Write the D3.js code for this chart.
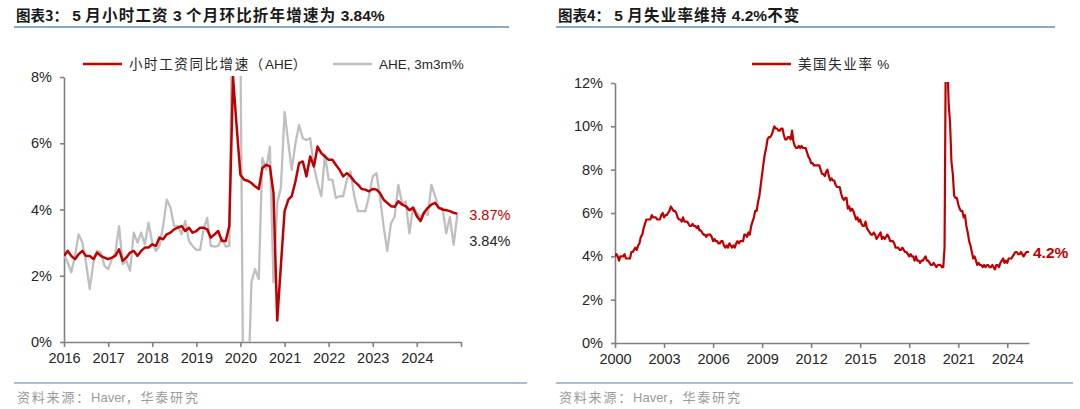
<!DOCTYPE html>
<html>
<head>
<meta charset="utf-8">
<script src="https://cdn.jsdelivr.net/npm/d3@7"></script>
<style>
  body { margin: 0; background: #fff; }
  svg { display: block; }
  .cjk { font-family: "Noto Sans CJK SC", sans-serif; }
  .num { font-family: "Liberation Sans", Arial, sans-serif; }
</style>
</head>
<body>
<svg id="chart" width="1080" height="409"></svg>
<script>
// ---- data: chart 3, monthly from Jan 2016 (axis dates as drawn)
const aheStart = new Date(2016, 0, 1);
const aheYoy = [2.6, 2.75, 2.6, 2.5, 2.65, 2.75, 2.6, 2.6, 2.5, 2.7, 2.6, 2.55,
  2.5, 2.55, 2.6, 2.8, 2.45, 2.55, 2.7, 2.75, 2.6, 2.75, 2.85, 2.85,
  2.95, 2.9, 3.15, 3.1, 3.25, 3.3, 3.4, 3.45, 3.5, 3.35, 3.45, 3.3,
  3.35, 3.45, 3.45, 3.4, 3.15, 3.25, 3.35, 3.05, 3.05, 3.5, 8.0, 6.5,
  5.05, 4.9, 4.87, 4.8, 4.7, 4.62, 5.25, 5.35, 5.3, 4.5, 0.65, 2.3,
  3.95, 4.3, 4.4, 4.85, 5.4, 5.45, 5.0, 5.6, 5.3, 5.9, 5.7, 5.6,
  5.5, 5.5, 5.35, 5.2, 5.0, 5.1, 5.0, 4.85, 4.75, 4.62, 4.6, 4.55,
  4.62, 4.6, 4.5, 4.3, 4.2, 4.1, 4.08, 4.25, 4.15, 4.1, 3.98, 4.05,
  3.8, 3.65, 3.9, 4.05, 4.15, 4.2, 4.05, 4.0, 3.98, 3.95, 3.9, 3.87];
const ahe3m3m = [2.63, 2.4, 2.1, 2.6, 3.25, 3.0, 2.4, 1.6, 2.4, 2.75, 2.7, 2.3,
  2.2, 2.5, 2.7, 3.5, 2.35, 2.45, 2.15, 3.3, 3.0, 3.3, 2.95, 3.6,
  3.0, 2.75, 2.9, 3.5, 4.3, 4.05, 3.5, 3.5, 3.25, 3.65, 3.05, 2.9,
  2.78, 2.78, 3.4, 3.75, 2.9, 2.88, 2.9, 3.15, 2.88, 2.9, 12, 14,
  9, -5, -2, 1.8, 2.2, 1.9, 5.55, 5.2, 5.9, 1.8, 4.2, 4.65,
  6.95, 6.0, 5.2, 6.0, 6.55, 6.15, 6.1, 6.15, 5.3, 4.8, 4.4, 5.65,
  4.9, 4.9, 4.35, 4.4, 4.4, 4.9, 5.15, 4.4, 3.95, 3.95, 3.95, 4.4,
  5.0, 5.1, 4.4, 3.5, 2.75, 3.58, 3.78, 4.74, 4.19, 4.24, 3.28, 4.09,
  3.9, 3.78, 3.93, 3.83, 4.74, 4.4, 4.04, 4.04, 3.28, 3.78, 2.93, 3.84];
const aheYTicks = [0, 2, 4, 6, 8];
const aheXTicks = d3.range(2016, 2026);

// ---- data: chart 4, US unemployment rate, monthly from Jan 2000
const urStart = new Date(2000, 0, 1);
const unrate = [
  4.0,4.1,4.0,3.8,4.0,4.0,4.0,4.1,3.9,3.9,3.9,3.9,
  4.2,4.2,4.3,4.4,4.3,4.5,4.6,4.9,5.0,5.3,5.5,5.7,
  5.7,5.7,5.7,5.9,5.8,5.8,5.8,5.7,5.7,5.7,5.9,6.0,
  5.8,5.9,5.9,6.0,6.1,6.3,6.2,6.1,6.1,6.0,5.8,5.7,
  5.7,5.6,5.8,5.6,5.6,5.6,5.5,5.4,5.4,5.5,5.4,5.4,
  5.3,5.4,5.2,5.2,5.1,5.0,5.0,4.9,5.0,5.0,5.0,4.9,
  4.7,4.8,4.7,4.7,4.6,4.6,4.7,4.7,4.5,4.4,4.5,4.4,
  4.6,4.5,4.4,4.5,4.4,4.6,4.7,4.6,4.7,4.7,4.7,5.0,
  5.0,4.9,5.1,5.0,5.4,5.6,5.8,6.1,6.1,6.5,6.8,7.3,
  7.8,8.3,8.7,9.0,9.4,9.5,9.5,9.6,9.8,10.0,9.9,9.9,
  9.8,9.8,9.9,9.9,9.6,9.4,9.4,9.5,9.5,9.4,9.8,9.3,
  9.1,9.0,9.0,9.1,9.0,9.1,9.0,9.0,9.0,8.8,8.6,8.5,
  8.3,8.3,8.2,8.2,8.2,8.2,8.2,8.0,7.8,7.8,7.7,7.9,
  8.0,7.7,7.5,7.6,7.5,7.5,7.3,7.2,7.2,7.2,6.9,6.7,
  6.6,6.7,6.7,6.2,6.3,6.1,6.2,6.1,5.9,5.7,5.8,5.6,
  5.7,5.5,5.4,5.4,5.6,5.3,5.2,5.1,5.0,5.0,5.1,5.0,
  4.8,4.9,5.0,5.1,4.8,4.9,4.8,4.9,5.0,4.9,4.7,4.7,
  4.7,4.6,4.4,4.4,4.4,4.3,4.3,4.4,4.3,4.2,4.2,4.1,
  4.0,4.1,4.0,4.0,3.8,4.0,3.8,3.8,3.7,3.8,3.8,3.9,
  4.0,3.8,3.8,3.7,3.6,3.6,3.7,3.6,3.5,3.6,3.6,3.6,
  3.5,3.5,4.4,14.8,13.2,11.0,10.2,8.4,7.8,6.8,6.7,6.7,
  6.4,6.2,6.1,6.1,5.8,5.9,5.4,5.1,4.7,4.5,4.2,3.9,
  4.0,3.8,3.6,3.7,3.6,3.6,3.5,3.6,3.5,3.6,3.6,3.5,
  3.5,3.6,3.5,3.4,3.6,3.6,3.5,3.7,3.8,3.9,3.7,3.8,
  3.7,3.9,3.9,3.9,4.0,4.1,4.2,4.2,4.1,4.1,4.2,4.1,
  4.0,4.1,4.2,4.2,4.2];
const urYTicks = [0, 2, 4, 6, 8, 10, 12];
const urXTicks = d3.range(2000, 2025, 3);

const RED = '#C00000', GREY = '#BFBFBF', AXIS = '#808080', TXT = '#262626', RULE = '#8EA9C4';
const monthOf = (start, i) => d3.timeMonth.offset(start, i);

const svg = d3.select('#chart');
svg.append('rect').attr('width', 1080).attr('height', 409).attr('fill', '#fff');

// text with letter spacing only on the CJK runs
function mixed(t, str, spacing) {
  str.split(/([A-Za-z0-9%.,\- ]+)/).filter(s => s.length).forEach(s => {
    const latin = /^[A-Za-z0-9%.,\- ]+$/.test(s);
    t.append('tspan').attr('font-family', latin ? '"Liberation Sans", Arial, sans-serif' : '"Noto Sans CJK SC", sans-serif')
      .attr('letter-spacing', latin ? 0 : spacing).text(s);
  });
  return t;
}

function header(x0, x1, label, rest) {
  const t = svg.append('text').attr('x', x0 + 2).attr('y', 21)
    .attr('fill', '#1a1a1a').attr('font-weight', 700).attr('font-size', 15.5);
  t.append('tspan').attr('class', 'cjk').attr('font-size', 14.5).text(label);
  mixed(t, rest, 1.2);
  svg.append('line').attr('x1', x0).attr('x2', x1).attr('y1', 27).attr('y2', 27)
    .attr('stroke', RULE).attr('stroke-width', 2);
  svg.append('line').attr('x1', x0).attr('x2', x1 + 18).attr('y1', 383).attr('y2', 383)
    .attr('stroke', RULE).attr('stroke-width', 1.5);
  const s = svg.append('text').attr('x', x0 + 3).attr('y', 402)
    .attr('font-size', 13).attr('fill', '#9a9a9a');
  mixed(s, '资料来源：Haver，华泰研究', 1.8);
}

function legendItem(x, y, color, label) {
  svg.append('line').attr('x1', x).attr('x2', x + 39).attr('y1', y).attr('y2', y)
    .attr('stroke', color).attr('stroke-width', 2.5);
  const t = svg.append('text').attr('x', x + 46).attr('y', y + 4.5)
    .attr('font-size', 13.5).attr('fill', TXT);
  mixed(t, label, 1.6);
}

function styleAxis(g) {
  g.selectAll('path, line').attr('stroke', AXIS).attr('stroke-width', 1.6);
  g.selectAll('text').attr('class', 'num').attr('font-size', 14.5).attr('fill', TXT);
}

function clip(id, x0, x1, y0, y1) {
  svg.append('clipPath').attr('id', id).append('rect')
    .attr('x', x0).attr('y', y0).attr('width', x1 - x0).attr('height', y1 - y0);
}

// ================= chart 3 =================
header(14, 509, '图表3：', ' 5 月小时工资 3 个月环比折年增速为 3.84%');
legendItem(83, 64, RED, '小时工资同比增速（AHE）');
legendItem(333, 64, GREY, 'AHE, 3m3m%');

const xL = d3.scaleTime().domain([new Date(2016, 0, 1), new Date(2025, 0, 1)]).range([64, 461]);
const yL = d3.scaleLinear().domain([0, 8]).range([342, 77]);

svg.append('g').attr('transform', 'translate(64,0)')
  .call(d3.axisLeft(yL).tickValues(aheYTicks).tickFormat(d => d + '%').tickSize(4).tickSizeOuter(0).tickPadding(8))
  .call(styleAxis);
svg.append('g').attr('transform', 'translate(0,342)')
  .call(d3.axisBottom(xL).tickValues(aheXTicks.map(y => new Date(y, 0, 1)))
    .tickFormat(d => d.getFullYear() < 2025 ? d.getFullYear() : '').tickSize(5).tickSizeOuter(0).tickPadding(6))
  .call(styleAxis);

clip('clipL', 64, 470, 76, 342);
const lineL = d3.line().x((d, i) => xL(monthOf(aheStart, i))).y(d => yL(d));
svg.append('path').datum(ahe3m3m).attr('d', lineL).attr('clip-path', 'url(#clipL)')
  .attr('fill', 'none').attr('stroke', GREY).attr('stroke-width', 2.3).attr('stroke-linejoin', 'round');
svg.append('path').datum(aheYoy).attr('d', lineL).attr('clip-path', 'url(#clipL)')
  .attr('fill', 'none').attr('stroke', RED).attr('stroke-width', 2.5).attr('stroke-linejoin', 'round');

const lastL = aheYoy.length - 1;
svg.append('text').attr('class', 'num').attr('x', xL(monthOf(aheStart, lastL)) + 12)
  .attr('y', yL(aheYoy[lastL]) + 6).attr('font-size', 14.5).attr('fill', RED)
  .text(aheYoy[lastL].toFixed(2) + '%');
svg.append('text').attr('class', 'num').attr('x', xL(monthOf(aheStart, lastL)) + 12)
  .attr('y', yL(ahe3m3m[lastL]) + 31).attr('font-size', 14.5).attr('fill', TXT)
  .text(ahe3m3m[lastL].toFixed(2) + '%');

// ================= chart 4 =================
header(556, 1055, '图表4：', ' 5 月失业率维持 4.2%不变');
legendItem(752, 64, RED, '美国失业率 %');

const xR = d3.scaleTime().domain([new Date(2000, 0, 1), new Date(2025, 4, 1)]).range([615, 1029]);
const yR = d3.scaleLinear().domain([0, 12]).range([343, 83]);

svg.append('g').attr('transform', 'translate(615,0)')
  .call(d3.axisLeft(yR).tickValues(urYTicks).tickFormat(d => d + '%').tickSize(4).tickSizeOuter(0).tickPadding(8))
  .call(styleAxis);
svg.append('g').attr('transform', 'translate(0,343)')
  .call(d3.axisBottom(xR).tickValues(urXTicks.map(y => new Date(y, 0, 1)))
    .tickFormat(d => d.getFullYear()).tickSize(5).tickSizeOuter(0).tickPadding(6))
  .call(styleAxis);

clip('clipR', 615, 1040, 82, 343);
const lineR = d3.line().x((d, i) => xR(monthOf(urStart, i))).y(d => yR(d));
svg.append('path').datum(unrate).attr('d', lineR).attr('clip-path', 'url(#clipR)')
  .attr('fill', 'none').attr('stroke', RED).attr('stroke-width', 2.2).attr('stroke-linejoin', 'round');

const lastR = unrate.length - 1;
svg.append('text').attr('class', 'num').attr('x', xR(monthOf(urStart, lastR)) + 4)
  .attr('y', yR(unrate[lastR]) + 6).attr('font-size', 15.5).attr('font-weight', 700).attr('fill', RED)
  .text(unrate[lastR].toFixed(1) + '%');
</script>
</body>
</html>
